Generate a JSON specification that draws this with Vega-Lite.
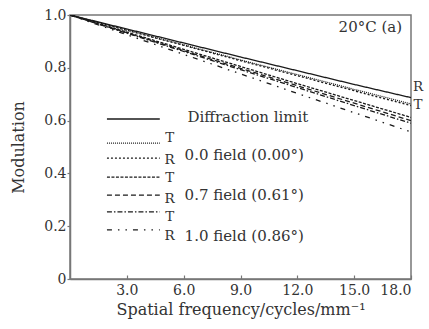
{
  "$schema": "https://vega.github.io/schema/vega-lite/v6.json",
  "width": 341,
  "height": 264,
  "autosize": {"type": "none"},
  "padding": {"left": 70, "top": 15, "right": 18, "bottom": 50},
  "background": "white",
  "config": {
    "view": {"stroke": "#777", "strokeWidth": 1.5},
    "font": "DejaVu Serif",
    "text": {"font": "DejaVu Serif", "fontSize": 15, "fill": "#333"}
  },
  "data": {
    "values": [
      {"series": "Diffraction limit", "freq": 0, "mod": 1.0},
      {"series": "Diffraction limit", "freq": 3, "mod": 0.947},
      {"series": "Diffraction limit", "freq": 6, "mod": 0.894},
      {"series": "Diffraction limit", "freq": 9, "mod": 0.841},
      {"series": "Diffraction limit", "freq": 12, "mod": 0.789},
      {"series": "Diffraction limit", "freq": 15, "mod": 0.737},
      {"series": "Diffraction limit", "freq": 18, "mod": 0.687},
      {"series": "0.0 field T", "freq": 0, "mod": 1.0},
      {"series": "0.0 field T", "freq": 3, "mod": 0.943},
      {"series": "0.0 field T", "freq": 6, "mod": 0.887},
      {"series": "0.0 field T", "freq": 9, "mod": 0.830},
      {"series": "0.0 field T", "freq": 12, "mod": 0.774},
      {"series": "0.0 field T", "freq": 15, "mod": 0.718},
      {"series": "0.0 field T", "freq": 18, "mod": 0.663},
      {"series": "0.0 field R", "freq": 0, "mod": 1.0},
      {"series": "0.0 field R", "freq": 3, "mod": 0.942},
      {"series": "0.0 field R", "freq": 6, "mod": 0.885},
      {"series": "0.0 field R", "freq": 9, "mod": 0.827},
      {"series": "0.0 field R", "freq": 12, "mod": 0.770},
      {"series": "0.0 field R", "freq": 15, "mod": 0.713},
      {"series": "0.0 field R", "freq": 18, "mod": 0.657},
      {"series": "0.7 field T", "freq": 0, "mod": 1.0},
      {"series": "0.7 field T", "freq": 3, "mod": 0.935},
      {"series": "0.7 field T", "freq": 6, "mod": 0.870},
      {"series": "0.7 field T", "freq": 9, "mod": 0.805},
      {"series": "0.7 field T", "freq": 12, "mod": 0.740},
      {"series": "0.7 field T", "freq": 15, "mod": 0.676},
      {"series": "0.7 field T", "freq": 18, "mod": 0.612},
      {"series": "0.7 field R", "freq": 0, "mod": 1.0},
      {"series": "0.7 field R", "freq": 3, "mod": 0.933},
      {"series": "0.7 field R", "freq": 6, "mod": 0.865},
      {"series": "0.7 field R", "freq": 9, "mod": 0.798},
      {"series": "0.7 field R", "freq": 12, "mod": 0.732},
      {"series": "0.7 field R", "freq": 15, "mod": 0.666},
      {"series": "0.7 field R", "freq": 18, "mod": 0.600},
      {"series": "1.0 field T", "freq": 0, "mod": 1.0},
      {"series": "1.0 field T", "freq": 3, "mod": 0.931},
      {"series": "1.0 field T", "freq": 6, "mod": 0.862},
      {"series": "1.0 field T", "freq": 9, "mod": 0.793},
      {"series": "1.0 field T", "freq": 12, "mod": 0.725},
      {"series": "1.0 field T", "freq": 15, "mod": 0.657},
      {"series": "1.0 field T", "freq": 18, "mod": 0.590},
      {"series": "1.0 field R", "freq": 0, "mod": 1.0},
      {"series": "1.0 field R", "freq": 3, "mod": 0.925},
      {"series": "1.0 field R", "freq": 6, "mod": 0.851},
      {"series": "1.0 field R", "freq": 9, "mod": 0.777},
      {"series": "1.0 field R", "freq": 12, "mod": 0.703},
      {"series": "1.0 field R", "freq": 15, "mod": 0.630},
      {"series": "1.0 field R", "freq": 18, "mod": 0.557}
    ]
  },
  "encoding": {
    "x": {
      "type": "quantitative",
      "scale": {"domain": [0, 18], "nice": false, "zero": false},
      "axis": {
        "title": "Spatial frequency/cycles/mm⁻¹",
        "values": [3, 6, 9, 12, 15, 18],
        "format": ".1f",
        "grid": false,
        "domainColor": "#777",
        "domainWidth": 1.5,
        "tickColor": "#777",
        "tickWidth": 1.2,
        "tickSize": -4,
        "labelPadding": 8,
        "labelFont": "DejaVu Serif",
        "labelFontSize": 14,
        "labelColor": "#333",
        "titleFont": "DejaVu Serif",
        "titleFontSize": 16,
        "titleFontWeight": "normal",
        "titleColor": "#333",
        "titlePadding": 4
      }
    },
    "y": {
      "type": "quantitative",
      "scale": {"domain": [0, 1], "nice": false},
      "axis": {
        "title": "Modulation",
        "values": [0, 0.2, 0.4, 0.6, 0.8, 1.0],
        "labelExpr": "datum.value == 0 ? '0' : format(datum.value, '.1f')",
        "grid": false,
        "domainColor": "#777",
        "domainWidth": 1.5,
        "tickColor": "#777",
        "tickWidth": 1.2,
        "tickSize": 3,
        "labelPadding": 1,
        "labelFont": "DejaVu Serif",
        "labelFontSize": 14,
        "labelColor": "#333",
        "titleFont": "DejaVu Serif",
        "titleFontSize": 16,
        "titleFontWeight": "normal",
        "titleColor": "#333",
        "titlePadding": 17
      }
    }
  },
  "layer": [
    {
      "mark": {"type": "line", "color": "#1a1a1a", "strokeWidth": 1.3, "clip": true},
      "encoding": {
        "x": {"field": "freq", "type": "quantitative"},
        "y": {"field": "mod", "type": "quantitative"},
        "detail": {"field": "series"},
        "strokeDash": {
          "field": "series",
          "type": "nominal",
          "scale": {
            "domain": ["Diffraction limit", "0.0 field T", "0.0 field R", "0.7 field T", "0.7 field R", "1.0 field T", "1.0 field R"],
            "range": [[1, 0], [1, 1], [2, 2], [3, 1.5], [5, 3], [5, 2, 1.5, 2], [5, 6, 1.5, 6, 1.5, 6]]
          },
          "legend": null
        }
      }
    },
    {"data": {"values": [{}]}, "mark": {"type": "rule", "color": "#1a1a1a", "strokeWidth": 1.3}, "encoding": {"x": {"datum": 1.95}, "x2": {"datum": 4.74}, "y": {"datum": 0.606}}},
    {"data": {"values": [{}]}, "mark": {"type": "rule", "color": "#1a1a1a", "strokeWidth": 1.3, "strokeDash": [1, 1]}, "encoding": {"x": {"datum": 1.95}, "x2": {"datum": 4.74}, "y": {"datum": 0.515}}},
    {"data": {"values": [{}]}, "mark": {"type": "rule", "color": "#1a1a1a", "strokeWidth": 1.3, "strokeDash": [2, 2]}, "encoding": {"x": {"datum": 1.95}, "x2": {"datum": 4.74}, "y": {"datum": 0.458}}},
    {"data": {"values": [{}]}, "mark": {"type": "rule", "color": "#1a1a1a", "strokeWidth": 1.3, "strokeDash": [3, 1.5]}, "encoding": {"x": {"datum": 1.95}, "x2": {"datum": 4.74}, "y": {"datum": 0.386}}},
    {"data": {"values": [{}]}, "mark": {"type": "rule", "color": "#1a1a1a", "strokeWidth": 1.3, "strokeDash": [5, 3]}, "encoding": {"x": {"datum": 1.95}, "x2": {"datum": 4.74}, "y": {"datum": 0.318}}},
    {"data": {"values": [{}]}, "mark": {"type": "rule", "color": "#1a1a1a", "strokeWidth": 1.3, "strokeDash": [5, 2, 1.5, 2]}, "encoding": {"x": {"datum": 1.95}, "x2": {"datum": 4.74}, "y": {"datum": 0.254}}},
    {"data": {"values": [{}]}, "mark": {"type": "rule", "color": "#1a1a1a", "strokeWidth": 1.3, "strokeDash": [5, 6, 1.5, 6, 1.5, 6]}, "encoding": {"x": {"datum": 1.95}, "x2": {"datum": 4.74}, "y": {"datum": 0.186}}},
    {"data": {"values": [{}]}, "mark": {"type": "text", "text": "Diffraction limit", "align": "left", "baseline": "middle"}, "encoding": {"x": {"datum": 6.2}, "y": {"datum": 0.614}}},
    {"data": {"values": [{}]}, "mark": {"type": "text", "text": "T", "fontSize": 13.5, "align": "center", "baseline": "middle"}, "encoding": {"x": {"datum": 5.26}, "y": {"datum": 0.534}}},
    {"data": {"values": [{}]}, "mark": {"type": "text", "text": "R", "fontSize": 13.5, "align": "center", "baseline": "middle"}, "encoding": {"x": {"datum": 5.26}, "y": {"datum": 0.451}}},
    {"data": {"values": [{}]}, "mark": {"type": "text", "text": "T", "fontSize": 13.5, "align": "center", "baseline": "middle"}, "encoding": {"x": {"datum": 5.26}, "y": {"datum": 0.383}}},
    {"data": {"values": [{}]}, "mark": {"type": "text", "text": "R", "fontSize": 13.5, "align": "center", "baseline": "middle"}, "encoding": {"x": {"datum": 5.26}, "y": {"datum": 0.304}}},
    {"data": {"values": [{}]}, "mark": {"type": "text", "text": "T", "fontSize": 13.5, "align": "center", "baseline": "middle"}, "encoding": {"x": {"datum": 5.26}, "y": {"datum": 0.234}}},
    {"data": {"values": [{}]}, "mark": {"type": "text", "text": "R", "fontSize": 13.5, "align": "center", "baseline": "middle"}, "encoding": {"x": {"datum": 5.26}, "y": {"datum": 0.163}}},
    {"data": {"values": [{}]}, "mark": {"type": "text", "text": "0.0  field (0.00°)", "align": "left", "baseline": "middle"}, "encoding": {"x": {"datum": 6.05}, "y": {"datum": 0.47}}},
    {"data": {"values": [{}]}, "mark": {"type": "text", "text": "0.7  field (0.61°)", "align": "left", "baseline": "middle"}, "encoding": {"x": {"datum": 6.05}, "y": {"datum": 0.318}}},
    {"data": {"values": [{}]}, "mark": {"type": "text", "text": "1.0  field (0.86°)", "align": "left", "baseline": "middle"}, "encoding": {"x": {"datum": 6.05}, "y": {"datum": 0.163}}},
    {"data": {"values": [{}]}, "mark": {"type": "text", "text": "20°C   (a)", "align": "right", "baseline": "middle"}, "encoding": {"x": {"datum": 17.53}, "y": {"datum": 0.955}}},
    {"data": {"values": [{}]}, "mark": {"type": "text", "text": "R", "fontSize": 13.5, "align": "center", "baseline": "middle"}, "encoding": {"x": {"datum": 18.37}, "y": {"datum": 0.729}}},
    {"data": {"values": [{}]}, "mark": {"type": "text", "text": "T", "fontSize": 13.5, "align": "center", "baseline": "middle"}, "encoding": {"x": {"datum": 18.37}, "y": {"datum": 0.659}}}
  ]
}
